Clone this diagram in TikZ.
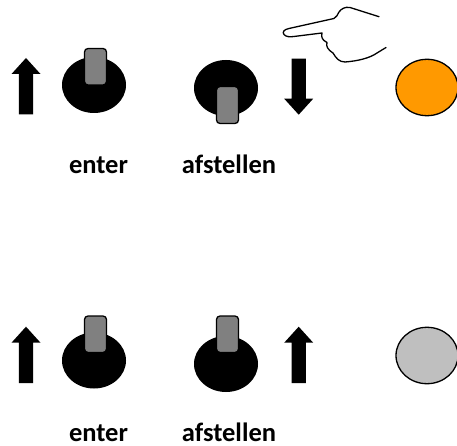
\documentclass[tikz,border=0pt]{standalone}
\usepackage{fontspec}
\setmainfont{Carlito}
\tikzset{
  x=1pt,y=-1pt,
  knobbase/.style={fill=black,draw=none},
  knob/.style={fill=black!50,draw=black,line width=1.3pt,rounded corners=3.5pt},
  lamp/.style={draw=black,line width=1.3pt},
  label/.style={font=\bfseries\fontsize{26.5}{30}\selectfont,inner sep=0pt,anchor=base},
  hand/.style={draw=black,line width=1.3pt,line cap=round,line join=round}
}
\definecolor{lamporange}{RGB}{255,153,0}
\definecolor{lampgray}{RGB}{191,191,191}
\newcommand{\uparr}[2]{\fill[black] (#1,#2) -- (#1+14.5,#2+16) -- (#1+7.2,#2+16) -- (#1+7.2,#2+56.5) -- (#1-7.2,#2+56.5) -- (#1-7.2,#2+16) -- (#1-14.5,#2+16) -- cycle;}
\newcommand{\dnarr}[2]{\fill[black] (#1,#2) -- (#1+14.5,#2-16) -- (#1+7.2,#2-16) -- (#1+7.2,#2-56) -- (#1-7.2,#2-56) -- (#1-7.2,#2-16) -- (#1-14.5,#2-16) -- cycle;}
\begin{document}
\begin{tikzpicture}
\useasboundingbox (0,0) rectangle (457,446);
% top row
\uparr{26}{58}
\fill[knobbase] (94,85) ellipse [x radius=32,y radius=28];
\draw[knob] (84.5,48.5) rectangle (106.5,85);
\fill[knobbase] (226,88) ellipse [x radius=32,y radius=28];
\draw[knob] (216.5,86.5) rectangle (238.5,123.5);
\dnarr{298.7}{114.7}
\draw[lamp,fill=lamporange] (427,87.5) ellipse [x radius=31,y radius=28.2];
\draw[hand] (379,16.7) -- (350,7.5) .. controls (345,6.5) and (341,9) .. (339,12) .. controls (337,15) and (337,17) .. (334,18.5)
  -- (289,28.5) .. controls (284,29.5) and (282,32) .. (284,34.5) .. controls (286,37) and (290,37) .. (294,36.5) -- (322,33)
  .. controls (321,37) and (322,40) .. (327,42.5) .. controls (326,46) and (327,49) .. (333,53)
  .. controls (336,58) and (339,62) .. (345,62) .. controls (358,61) and (370,58) .. (377,53) -- (386,47.5);
\node[label] (e1) at (98.5,173.5) {enter};
\node[label] (a1) at (229,173.5) {afstellen};
% bottom row
\uparr{26}{326.7}
\fill[knobbase] (94,360.5) ellipse [x radius=32,y radius=28];
\draw[knob] (84.5,316) rectangle (106.5,352.5);
\fill[knobbase] (226,364) ellipse [x radius=32,y radius=28];
\draw[knob] (216.5,316) rectangle (238.5,352.5);
\uparr{298.7}{326.7}
\draw[lamp,fill=lampgray] (427,355.5) ellipse [x radius=31,y radius=28.2];
\node[label] (e2) at (98.5,441) {enter};
\node[label] (a2) at (229,441) {afstellen};
\end{tikzpicture}
\end{document}
